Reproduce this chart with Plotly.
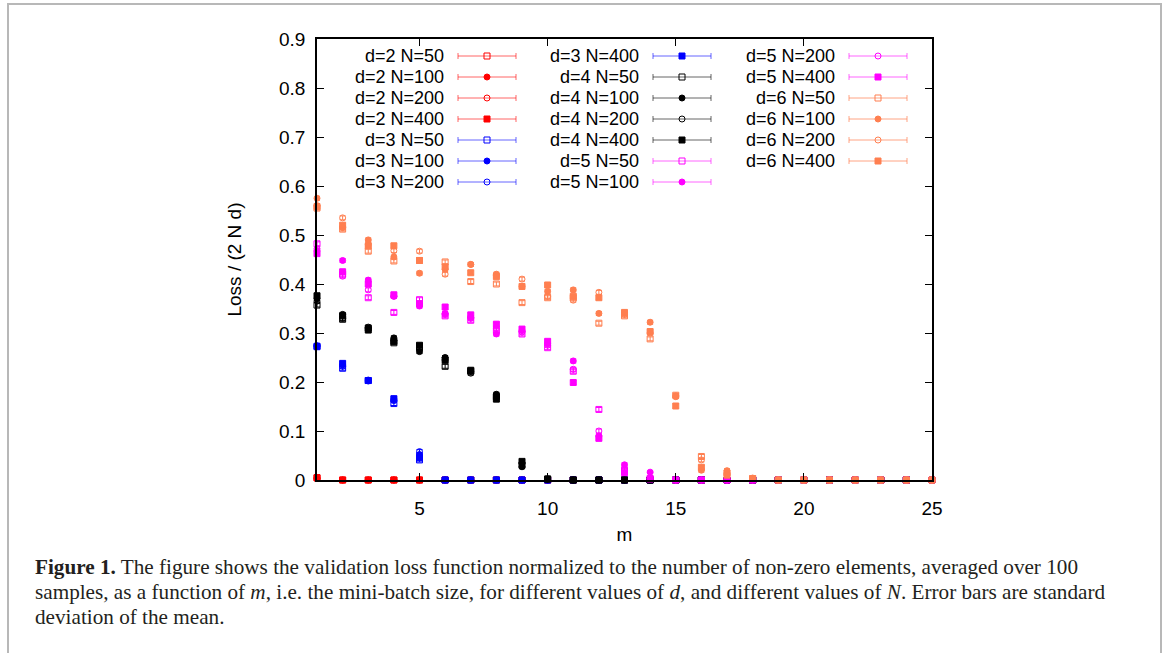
import plotly.graph_objects as go

# ---------------- data ----------------
M = list(range(1, 26))

D2_N50  = [0.004, 0, 0, 0, 0, 0, 0, 0, 0, 0, 0, 0, 0, 0, 0, 0, 0, 0, 0, 0, 0, 0, 0, 0, 0]
D2_N100 = [0.003, 0, 0, 0, 0, 0, 0, 0, 0, 0, 0, 0, 0, 0, 0, 0, 0, 0, 0, 0, 0, 0, 0, 0, 0]
D2_N200 = [0.004, 0, 0, 0, 0, 0, 0, 0, 0, 0, 0, 0, 0, 0, 0, 0, 0, 0, 0, 0, 0, 0, 0, 0, 0]
D2_N400 = [0.005, 0, 0, 0, 0, 0, 0, 0, 0, 0, 0, 0, 0, 0, 0, 0, 0, 0, 0, 0, 0, 0, 0, 0, 0]

D3_N50  = [0.272, 0.228, 0.203, 0.156, 0.041, 0, 0, 0, 0, 0, 0, 0, 0, 0, 0, 0, 0, 0, 0, 0, 0, 0, 0, 0, 0]
D3_N100 = [0.274, 0.235, 0.204, 0.165, 0.052, 0, 0, 0, 0, 0, 0, 0, 0, 0, 0, 0, 0, 0, 0, 0, 0, 0, 0, 0, 0]
D3_N200 = [0.273, 0.232, 0.202, 0.162, 0.058, 0, 0, 0, 0, 0, 0, 0, 0, 0, 0, 0, 0, 0, 0, 0, 0, 0, 0, 0, 0]
D3_N400 = [0.273, 0.238, 0.203, 0.166, 0.046, 0, 0, 0, 0, 0, 0, 0, 0, 0, 0, 0, 0, 0, 0, 0, 0, 0, 0, 0, 0]

D4_N50  = [0.357, 0.328, 0.310, 0.280, 0.270, 0.232, 0.222, 0.170, 0.030, 0.002, 0, 0, 0, 0, 0, 0, 0, 0, 0, 0, 0, 0, 0, 0, 0]
D4_N100 = [0.370, 0.338, 0.310, 0.290, 0.262, 0.250, 0.222, 0.175, 0.027, 0.002, 0, 0, 0, 0, 0, 0, 0, 0, 0, 0, 0, 0, 0, 0, 0]
D4_N200 = [0.365, 0.330, 0.312, 0.285, 0.270, 0.245, 0.218, 0.172, 0.035, 0.002, 0, 0, 0, 0, 0, 0, 0, 0, 0, 0, 0, 0, 0, 0, 0]
D4_N400 = [0.376, 0.335, 0.306, 0.283, 0.275, 0.245, 0.224, 0.165, 0.038, 0.002, 0, 0, 0, 0, 0, 0, 0, 0, 0, 0, 0, 0, 0, 0, 0]

D5_N50  = [0.482, 0.420, 0.372, 0.342, 0.368, 0.335, 0.326, 0.305, 0.298, 0.270, 0.222, 0.144, 0.020, 0.002, 0, 0, 0, 0, 0, 0, 0, 0, 0, 0, 0]
D5_N100 = [0.468, 0.448, 0.408, 0.375, 0.355, 0.340, 0.332, 0.298, 0.305, 0.278, 0.243, 0.090, 0.031, 0.016, 0, 0, 0, 0, 0, 0, 0, 0, 0, 0, 0]
D5_N200 = [0.472, 0.416, 0.388, 0.375, 0.360, 0.338, 0.330, 0.310, 0.302, 0.275, 0.226, 0.100, 0.020, 0.003, 0, 0, 0, 0, 0, 0, 0, 0, 0, 0, 0]
D5_N400 = [0.462, 0.425, 0.400, 0.378, 0.360, 0.353, 0.337, 0.318, 0.308, 0.283, 0.199, 0.085, 0.015, 0.003, 0, 0, 0, 0, 0, 0, 0, 0, 0, 0, 0]

D6_N50  = [0.555, 0.512, 0.467, 0.447, 0.448, 0.445, 0.405, 0.400, 0.362, 0.372, 0.372, 0.320, 0.335, 0.288, 0.173, 0.048, 0.014, 0.003, 0, 0, 0, 0, 0, 0, 0]
D6_N100 = [0.575, 0.515, 0.490, 0.455, 0.422, 0.430, 0.440, 0.420, 0.395, 0.385, 0.388, 0.340, 0.341, 0.322, 0.170, 0.020, 0.019, 0.004, 0, 0, 0, 0, 0, 0, 0]
D6_N200 = [0.560, 0.535, 0.480, 0.468, 0.467, 0.420, 0.440, 0.417, 0.410, 0.375, 0.367, 0.383, 0.338, 0.300, 0.172, 0.041, 0.012, 0.003, 0, 0, 0, 0, 0, 0, 0]
D6_N400 = [0.558, 0.520, 0.478, 0.478, 0.448, 0.435, 0.423, 0.415, 0.395, 0.398, 0.375, 0.372, 0.342, 0.303, 0.151, 0.026, 0.010, 0.003, 0, 0, 0, 0, 0, 0, 0]

# estimated error bars (standard deviation of the mean), shared within each d
ERR_D2 = [0.002, 0, 0, 0, 0, 0, 0, 0, 0, 0, 0, 0, 0, 0, 0, 0, 0, 0, 0, 0, 0, 0, 0, 0, 0]
ERR_D3 = [0.004, 0.004, 0.004, 0.004, 0.004, 0, 0, 0, 0, 0, 0, 0, 0, 0, 0, 0, 0, 0, 0, 0, 0, 0, 0, 0, 0]
ERR_D4 = [0.004, 0.004, 0.004, 0.004, 0.004, 0.004, 0.004, 0.004, 0.004, 0.002, 0, 0, 0, 0, 0, 0, 0, 0, 0, 0, 0, 0, 0, 0, 0]
ERR_D5 = [0.004, 0.004, 0.004, 0.004, 0.004, 0.004, 0.004, 0.004, 0.004, 0.004, 0.004, 0.004, 0.004, 0.002, 0, 0, 0, 0, 0, 0, 0, 0, 0, 0, 0]
ERR_D6 = [0.004, 0.004, 0.004, 0.004, 0.004, 0.004, 0.004, 0.004, 0.004, 0.004, 0.004, 0.004, 0.004, 0.004, 0.004, 0.004, 0.004, 0.002, 0, 0, 0, 0, 0, 0, 0]

SERIES = [
    ("d=2 N=50", D2_N50, ERR_D2, 2, 50), ("d=2 N=100", D2_N100, ERR_D2, 2, 100),
    ("d=2 N=200", D2_N200, ERR_D2, 2, 200), ("d=2 N=400", D2_N400, ERR_D2, 2, 400),
    ("d=3 N=50", D3_N50, ERR_D3, 3, 50), ("d=3 N=100", D3_N100, ERR_D3, 3, 100),
    ("d=3 N=200", D3_N200, ERR_D3, 3, 200), ("d=3 N=400", D3_N400, ERR_D3, 3, 400),
    ("d=4 N=50", D4_N50, ERR_D4, 4, 50), ("d=4 N=100", D4_N100, ERR_D4, 4, 100),
    ("d=4 N=200", D4_N200, ERR_D4, 4, 200), ("d=4 N=400", D4_N400, ERR_D4, 4, 400),
    ("d=5 N=50", D5_N50, ERR_D5, 5, 50), ("d=5 N=100", D5_N100, ERR_D5, 5, 100),
    ("d=5 N=200", D5_N200, ERR_D5, 5, 200), ("d=5 N=400", D5_N400, ERR_D5, 5, 400),
    ("d=6 N=50", D6_N50, ERR_D6, 6, 50), ("d=6 N=100", D6_N100, ERR_D6, 6, 100),
    ("d=6 N=200", D6_N200, ERR_D6, 6, 200), ("d=6 N=400", D6_N400, ERR_D6, 6, 400),
]

X_TICKS = [5, 10, 15, 20, 25]
Y_TICKS = [0, 0.1, 0.2, 0.3, 0.4, 0.5, 0.6, 0.7, 0.8, 0.9]
Y_TICK_TEXT = ["0", "0.1", "0.2", "0.3", "0.4", "0.5", "0.6", "0.7", "0.8", "0.9"]

CAPTION_LINES = [
    "<b>Figure 1.</b> The figure shows the validation loss function normalized to the number of "
    "non-zero elements, averaged over 100",
    "samples, as a function of <i>m</i>, i.e. the mini-batch size, for different values of <i>d</i>, "
    "and different values of <i>N</i>. Error bars are standard",
    "deviation of the mean.",
]

# ---------------- style ----------------
COLORS = {2: "#ff0000", 3: "#0000ff", 4: "#000000", 5: "#ff00ff", 6: "#ff7f50"}
BAR_COLORS = {2: "rgba(255,0,0,0.6)", 3: "rgba(0,0,255,0.6)", 4: "rgba(0,0,0,0.6)",
              5: "rgba(255,0,255,0.6)", 6: "rgba(255,127,80,0.7)"}
SYMBOLS = {50: "square-open", 100: "circle", 200: "circle-open", 400: "square"}
SIZES = {50: 6, 100: 6, 200: 6, 400: 6}
SANS = "Liberation Sans, Arial, sans-serif"
SERIF = "Liberation Serif, Times New Roman, serif"

W, H = 1170, 653
L, R, T, B = 317, 932, 39, 480   # plot-area pixel box

fig = go.Figure()

for name, vals, err, d, n in SERIES:
    fig.add_trace(go.Scatter(
        x=M, y=vals, mode="markers", name=name, showlegend=False, cliponaxis=False,
        marker=dict(symbol=SYMBOLS[n], size=SIZES[n], color=COLORS[d],
                    line=dict(width=1, color=COLORS[d])),
        error_y=dict(type="data", array=err, visible=True, color=COLORS[d],
                     thickness=1, width=3),
    ))

# gnuplot-style key: text, then sample line with error-bar caps and marker
COL_X = [487, 682, 878]
ROW_Y0, ROW_DY = 56, 21
for i, (name, vals, err, d, n) in enumerate(SERIES):
    col, row = divmod(i, 7)
    lx, ly = COL_X[col], ROW_Y0 + ROW_DY * row
    fig.add_trace(go.Scatter(
        x=[lx], y=[ly], xaxis="x2", yaxis="y2", mode="markers", showlegend=False,
        hoverinfo="skip", cliponaxis=False,
        marker=dict(symbol=SYMBOLS[n], size=SIZES[n], color=COLORS[d],
                    line=dict(width=1, color=COLORS[d])),
        error_x=dict(type="data", array=[29], visible=True, color=BAR_COLORS[d],
                     thickness=1, width=3),
    ))
    fig.add_annotation(x=lx - 41, y=ly, xref="x2", yref="y2", text=name, showarrow=False,
                       xanchor="right", yanchor="middle", font=dict(family=SANS, size=18, color="black"))

def px_x(p):
    return (p - L) / (R - L)

def px_y(p):
    return (B - p) / (B - T)

fig.add_shape(type="rect", xref="paper", yref="paper",
              x0=px_x(8), x1=px_x(1161), y0=px_y(700), y1=px_y(4),
              line=dict(color="#b8b8b8", width=2), layer="below")

CAPTION_Y = [567, 592, 617]
for txt, cy in zip(CAPTION_LINES, CAPTION_Y):
    fig.add_annotation(xref="paper", yref="paper", x=px_x(33), y=px_y(cy),
                       xanchor="left", yanchor="middle", align="left", showarrow=False,
                       text=txt, font=dict(family=SERIF, size=21.2, color="#231f20"))

axis_common = dict(showline=True, linecolor="black", linewidth=1.5, mirror="ticks",
                   ticks="inside", ticklen=7, tickwidth=1, tickcolor="black",
                   showgrid=False, zeroline=False,
                   tickfont=dict(family=SANS, size=19, color="black"))

fig.update_layout(
    width=W, height=H, autosize=False,
    margin=dict(l=L, r=W - R, t=T, b=H - B, pad=0),
    paper_bgcolor="white", plot_bgcolor="white",
    showlegend=False,
    xaxis=dict(range=[1, 25], tickvals=X_TICKS, ticklabelstandoff=10,
               title=dict(text="m", font=dict(family=SANS, size=19, color="black"), standoff=10),
               **axis_common),
    yaxis=dict(range=[0, 0.9], tickvals=Y_TICKS, ticktext=Y_TICK_TEXT, ticklabelstandoff=6,
               title=dict(text="Loss / (2 N d)", font=dict(family=SANS, size=19, color="black"), standoff=32),
               **axis_common),
    xaxis2=dict(range=[L, R], overlaying="x", anchor="y2", visible=False),
    yaxis2=dict(range=[B, T], overlaying="y", anchor="x2", visible=False),
)

fig.write_html("out.html", config={"displayModeBar": False},
               post_script="document.body.style.margin='0px';")
